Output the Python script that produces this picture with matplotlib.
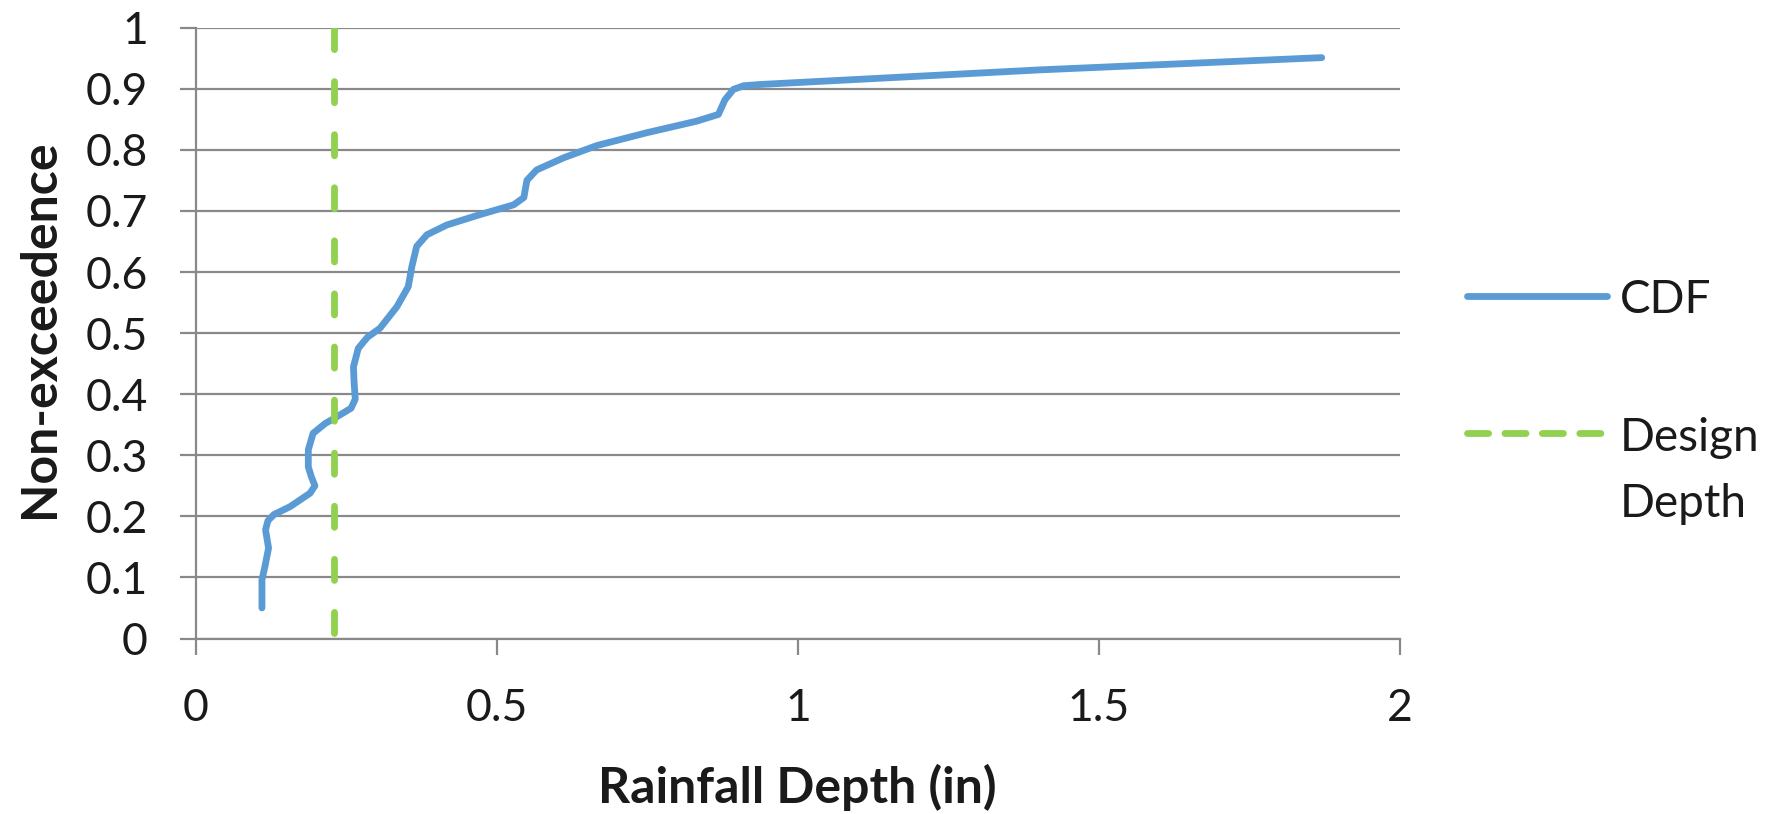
import matplotlib
matplotlib.use("Agg")
import matplotlib.pyplot as plt
from matplotlib.lines import Line2D

# ---- data ----
cdf_depth = [0.110, 0.110, 0.115, 0.121, 0.116, 0.120, 0.130, 0.157, 0.190, 0.198,
             0.192, 0.187, 0.187, 0.195, 0.215, 0.231, 0.258, 0.265, 0.263, 0.262,
             0.270, 0.285, 0.306, 0.334, 0.353, 0.359, 0.367, 0.384, 0.417, 0.472,
             0.528, 0.545, 0.550, 0.566, 0.611, 0.666, 0.749, 0.832, 0.868, 0.879,
             0.893, 0.910, 0.937, 1.403, 1.870]
cdf_prob = [0.050, 0.096, 0.118, 0.148, 0.178, 0.193, 0.203, 0.216, 0.238, 0.250,
            0.265, 0.281, 0.309, 0.336, 0.352, 0.361, 0.377, 0.392, 0.420, 0.445,
            0.475, 0.493, 0.508, 0.543, 0.576, 0.609, 0.642, 0.661, 0.677, 0.694,
            0.710, 0.722, 0.750, 0.767, 0.787, 0.807, 0.828, 0.847, 0.858, 0.882,
            0.899, 0.905, 0.907, 0.931, 0.951]
design_depth = 0.23
design_prob = [1.0, 0.0]

x_ticks = [0, 0.5, 1, 1.5, 2]
x_tick_labels = ["0", "0.5", "1", "1.5", "2"]
y_ticks = [0, 0.1, 0.2, 0.3, 0.4, 0.5, 0.6, 0.7, 0.8, 0.9, 1]
y_tick_labels = ["0", "0.1", "0.2", "0.3", "0.4", "0.5", "0.6", "0.7", "0.8", "0.9", "1"]

series_labels = ["CDF", "Design\nDepth"]
x_label = "Rainfall Depth (in)"
y_label = "Non-exceedence"

# ---- style ----
FONT = "Lato"
plt.rcParams["font.family"] = [FONT, "DejaVu Sans"]
blue = "#5B9BD5"
green = "#92D050"
grid_c = "#898989"
text_c = "#1a1a1a"
LW = 4.9

W, H = 1779, 814
fig = plt.figure(figsize=(W / 100, H / 100), dpi=100)
ax = fig.add_axes([195.7 / W, 1 - 638.5 / H, (1400 - 195.7) / W, (638.5 - 27.7) / H])

ax.set_xlim(0, 2)
ax.set_ylim(0, 1)

ax.plot(cdf_depth, cdf_prob, color=blue, lw=LW, solid_capstyle="round",
        solid_joinstyle="round", zorder=3, label=series_labels[0])
ax.plot([design_depth, design_depth], design_prob, color=green, lw=LW,
        dashes=(3.1, 4.7), dash_capstyle="round", zorder=3, label=series_labels[1])

ax.set_xticks(x_ticks)
ax.set_xticklabels(x_tick_labels)
ax.set_yticks(y_ticks)
ax.set_yticklabels(y_tick_labels)

ax.yaxis.grid(True, color=grid_c, lw=1.6)
ax.xaxis.grid(False)
ax.set_axisbelow(True)

for s in ["top", "right"]:
    ax.spines[s].set_visible(False)
for s in ["left", "bottom"]:
    ax.spines[s].set_color(grid_c)
    ax.spines[s].set_linewidth(1.6)

ax.tick_params(axis="both", direction="out", length=11.5, width=1.6, color=grid_c,
               labelsize=32, labelcolor=text_c)
ax.tick_params(axis="y", pad=23)
ax.tick_params(axis="x", pad=24)

ax.set_xlabel(x_label, fontsize=36, fontweight="bold", color=text_c, va="top")
ax.xaxis.set_label_coords(0.4994, -0.205)
ax.set_ylabel(y_label, fontsize=36, fontweight="bold", color=text_c)
ax.yaxis.set_label_coords(-0.111, 0.507)

# ---- legend (right side) ----
fig.add_artist(Line2D([1467 / W, 1607 / W], [1 - 296 / H] * 2, transform=fig.transFigure,
                      color=blue, lw=LW, solid_capstyle="round"))
fig.text(1620 / W, 1 - 313 / H, series_labels[0], fontsize=33, color=text_c, va="baseline", ha="left")
fig.add_artist(Line2D([1467 / W, 1607 / W], [1 - 433 / H] * 2, transform=fig.transFigure,
                      color=green, lw=LW, dashes=(3.1, 2.4), dash_capstyle="round"))
fig.text(1620 / W, 1 - 517 / H, series_labels[1], fontsize=33, color=text_c, va="baseline",
         ha="left", linespacing=1.72)

fig.savefig("out.png", dpi=100)
